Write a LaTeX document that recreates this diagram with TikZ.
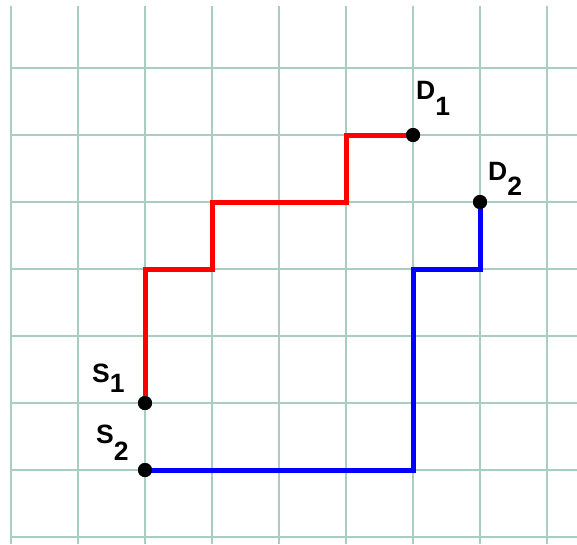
\documentclass[tikz,border=0pt]{standalone}
\usepackage{fontspec}
\setmainfont{Liberation Sans}
\definecolor{gridc}{RGB}{170,205,194}
\definecolor{redp}{RGB}{255,0,0}
\definecolor{bluep}{RGB}{0,0,255}
\tikzset{
  gridline/.style={draw=gridc, line width=2pt},
  pathred/.style={draw=redp, line width=5pt},
  pathblue/.style={draw=bluep, line width=5pt},
  dot/.style={circle, fill=black, inner sep=0pt, minimum size=14pt},
  lbl/.style={anchor=base west, inner sep=0pt, font=\fontsize{26.5}{26.5}\selectfont\bfseries}
}
\begin{document}
\begin{tikzpicture}[x=1pt,y=-1pt]
\useasboundingbox (0,0) rectangle (577,544);
\fill[white] (0,0) rectangle (577,544);
% grid
\foreach \x in {11,78,145,212,279,346,413,480,547}
  \draw[gridline] (\x,6) -- (\x,544);
\foreach \y in {68,135,202,269,336,403,470,537}
  \draw[gridline] (11,\y) -- (577,\y);
% turning points
\coordinate (r1) at (212,269);
\coordinate (r2) at (346,202);
\coordinate (b1) at (413,269);
% endpoints
\node[dot] (S1) at (145,403) {};
\node[dot] (S2) at (145,470) {};
\node[dot] (D1) at (413,135) {};
\node[dot] (D2) at (480,202) {};
% paths
\draw[pathred] (S1.center) |- (r1) |- (r2) |- (D1.center);
\draw[pathblue] (S2.center) -| (b1) -| (D2.center);
% redraw dots on top
\foreach \n in {S1,S2,D1,D2} \fill (\n) circle (7pt);
% labels
\node[lbl] (lD1) at (416,99) {D\raisebox{-16pt}{1}};
\node[lbl] (lD2) at (488,180) {D\raisebox{-15pt}{2}};
\node[lbl] (lS1) at (92,382) {S\raisebox{-10pt}{1}};
\node[lbl] (lS2) at (96,443) {S\raisebox{-17pt}{2}};
\end{tikzpicture}
\end{document}
